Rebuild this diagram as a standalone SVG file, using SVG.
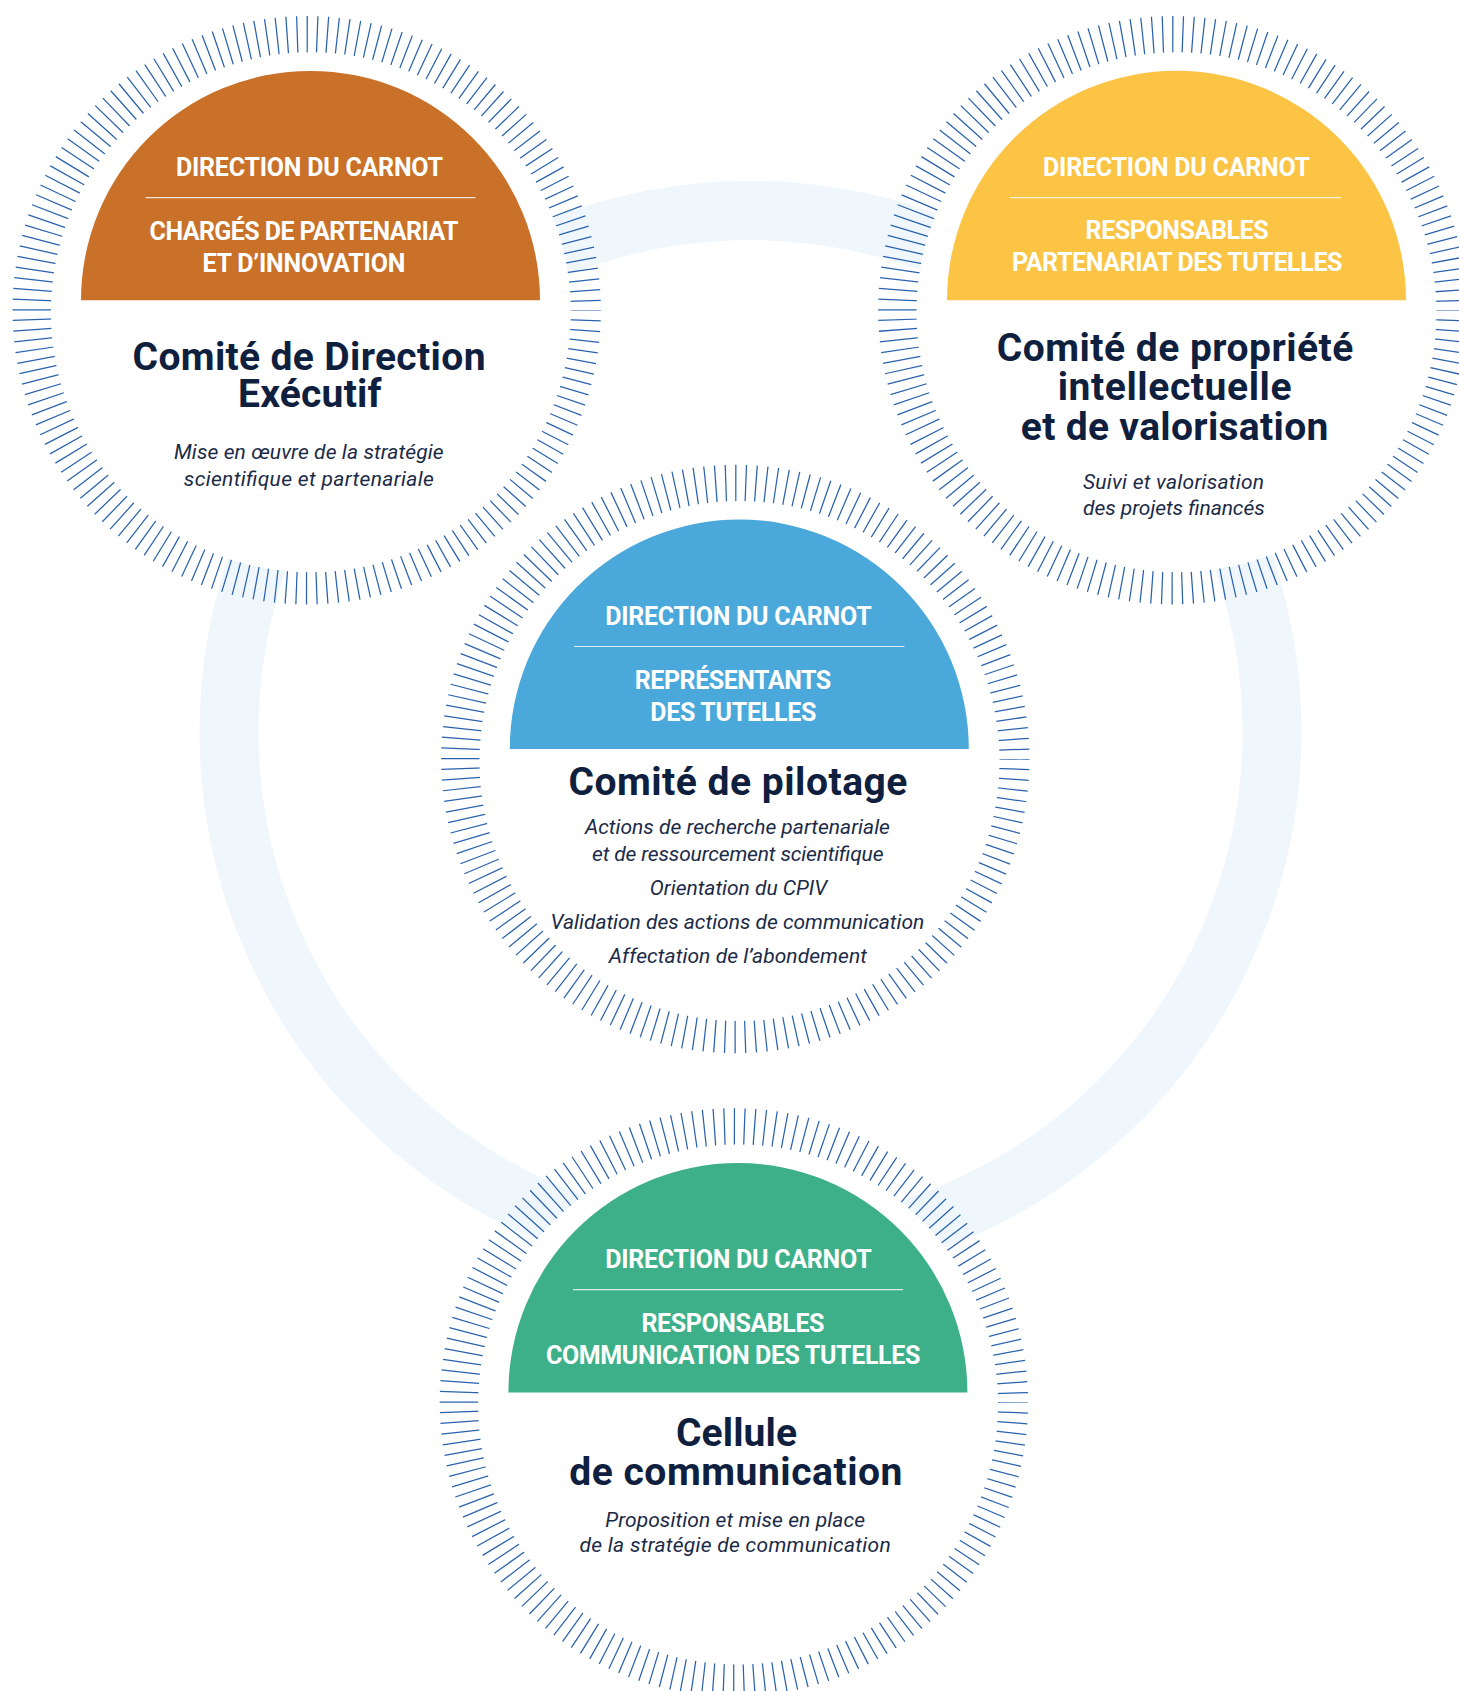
<svg xmlns="http://www.w3.org/2000/svg" width="1459" height="1691" viewBox="0 0 1459 1691">
<style>
.ticks{fill:none;stroke:#2a62ae;stroke-width:42.2;stroke-dasharray:1.25 8.72639;stroke-dashoffset:0.625}
.disc{fill:#ffffff}
.sep{stroke:#ffffff;stroke-opacity:0.8;stroke-width:1.2}
.cap{font-family:Roboto,'Liberation Sans',sans-serif;font-weight:700;font-size:25px;fill:#ffffff;text-anchor:middle}
.title{font-family:Roboto,'Liberation Sans',sans-serif;font-weight:700;font-size:39px;fill:#0f203f;text-anchor:middle}
.desc{font-family:Roboto,'Liberation Sans',sans-serif;font-style:italic;font-size:21px;fill:#1b2a47;text-anchor:middle}
</style>
<g id="connectors">
<circle cx="750.5" cy="732" r="521.5" fill="none" stroke="#EFF7FC" stroke-width="59"/>
</g>
<g id="node-direction-executif">
<circle class="ticks" cx="306.7" cy="310.2" r="273.1"/>
<circle class="disc" cx="310.9" cy="312.3" r="260"/>
<path d="M81,300.3 A229.5,229.5 0 0 1 540,300.3 Z" fill="#C97129"/>
<line class="sep" x1="145.5" y1="197.7" x2="475.5" y2="197.7"/>
<text class="cap" x="309.5" y="176" textLength="267">DIRECTION DU CARNOT</text>
<text class="cap" x="304.1" y="240" textLength="309">CHARGÉS DE PARTENARIAT</text>
<text class="cap" x="303.9" y="272" textLength="203">ET D’INNOVATION</text>
<text class="title" x="309" y="369.7" textLength="353">Comité de Direction</text>
<text class="title" x="309.8" y="407" textLength="143.5">Exécutif</text>
<text class="desc" x="308.8" y="458.7" textLength="269.7">Mise en œuvre de la stratégie</text>
<text class="desc" x="308.8" y="485.6" textLength="250">scientifique et partenariale</text>
</g>
<g id="node-propriete-intellectuelle">
<circle class="ticks" cx="1172.3" cy="310.2" r="273.1"/>
<circle class="disc" cx="1176.5" cy="312.3" r="260"/>
<path d="M947,300.3 A229.5,229.5 0 0 1 1406,300.3 Z" fill="#FBC445"/>
<line class="sep" x1="1010" y1="197.7" x2="1341" y2="197.7"/>
<text class="cap" x="1176.6" y="176" textLength="267">DIRECTION DU CARNOT</text>
<text class="cap" x="1177.1" y="239" textLength="183">RESPONSABLES</text>
<text class="cap" x="1177.2" y="271" textLength="330.5">PARTENARIAT DES TUTELLES</text>
<text class="title" x="1175" y="360.6" textLength="356.5">Comité de propriété</text>
<text class="title" x="1174.6" y="400" textLength="233.8">intellectuelle</text>
<text class="title" x="1174.6" y="440" textLength="307.6">et de valorisation</text>
<text class="desc" x="1173.5" y="489" textLength="181">Suivi et valorisation</text>
<text class="desc" x="1173.9" y="515" textLength="181.7">des projets financés</text>
</g>
<g id="node-pilotage">
<circle class="ticks" cx="735.3" cy="759" r="273.1"/>
<circle class="disc" cx="739.5" cy="761.1" r="260"/>
<path d="M509.8,749 A229.5,229.5 0 0 1 968.8,749 Z" fill="#4AA8DA"/>
<line class="sep" x1="574" y1="646.5" x2="904.5" y2="646.5"/>
<text class="cap" x="738.4" y="624.8" textLength="266.5">DIRECTION DU CARNOT</text>
<text class="cap" x="733" y="688.8" textLength="196.5">REPRÉSENTANTS</text>
<text class="cap" x="733.3" y="721" textLength="166">DES TUTELLES</text>
<text class="title" x="737.9" y="794.8" textLength="339">Comité de pilotage</text>
<text class="desc" x="737.4" y="834" textLength="305">Actions de recherche partenariale</text>
<text class="desc" x="737.8" y="861" textLength="291.4">et de ressourcement scientifique</text>
<text class="desc" x="738.6" y="894.8" textLength="177.5">Orientation du CPIV</text>
<text class="desc" x="737.4" y="928.5" textLength="373.7">Validation des actions de communication</text>
<text class="desc" x="737.8" y="962.9" textLength="258.2">Affectation de l’abondement</text>
</g>
<g id="node-communication">
<circle class="ticks" cx="733.9" cy="1402.4" r="273.1"/>
<circle class="disc" cx="738.1" cy="1404.5" r="260"/>
<path d="M508.4,1392.5 A229.5,229.5 0 0 1 967.4,1392.5 Z" fill="#3EB089"/>
<line class="sep" x1="573" y1="1289.7" x2="903" y2="1289.7"/>
<text class="cap" x="738.4" y="1268.2" textLength="266.5">DIRECTION DU CARNOT</text>
<text class="cap" x="733" y="1332" textLength="183">RESPONSABLES</text>
<text class="cap" x="733.1" y="1364" textLength="374.4">COMMUNICATION DES TUTELLES</text>
<text class="title" x="736.5" y="1445.7" textLength="121">Cellule</text>
<text class="title" x="735.8" y="1484.8" textLength="333.3">de communication</text>
<text class="desc" x="735.1" y="1527" textLength="259.8">Proposition et mise en place</text>
<text class="desc" x="735.1" y="1551.9" textLength="311.1">de la stratégie de communication</text>
</g>
</svg>
